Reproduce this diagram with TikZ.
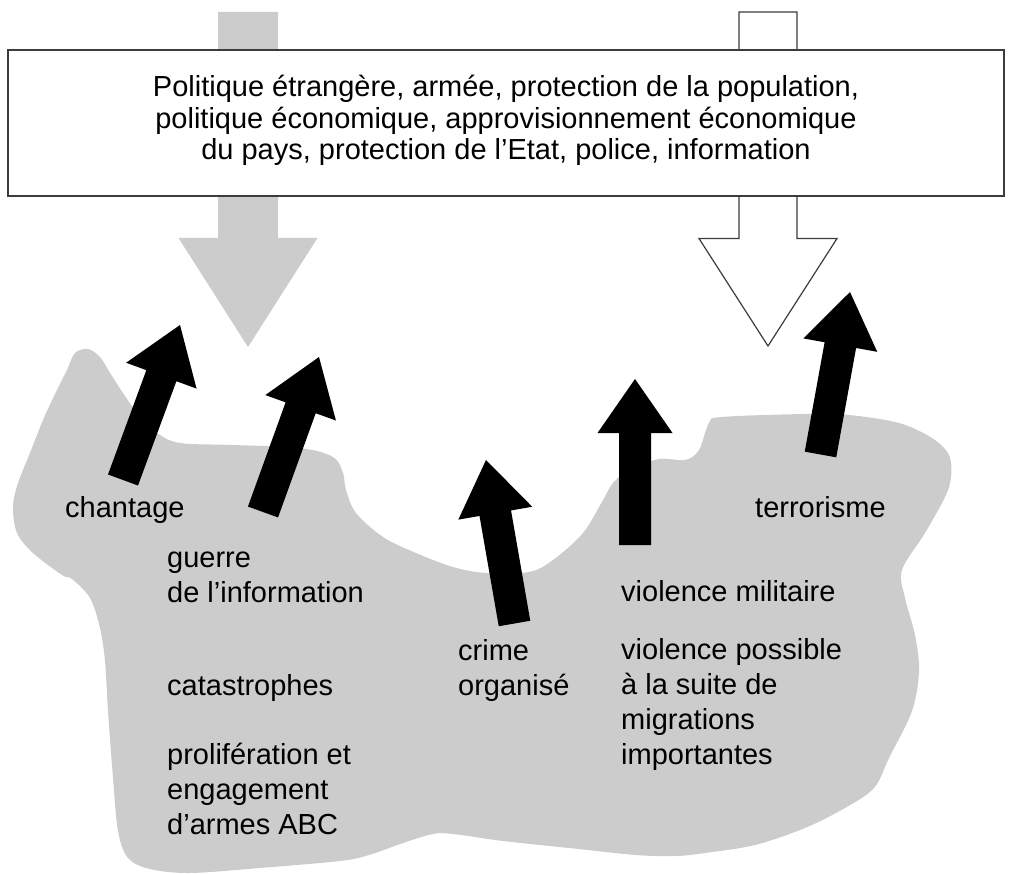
\documentclass[tikz,border=0pt]{standalone}
\usepackage{fontspec}
\setmainfont{Liberation Sans}
\usetikzlibrary{calc}
\definecolor{blobgray}{RGB}{204,204,204}
\definecolor{linegray}{RGB}{60,60,60}
\tikzset{
  lbl/.style={anchor=base west, inner sep=0pt, align=left, font=\fontsize{29}{35}\selectfont},
  toptext/.style={anchor=base, inner sep=0pt, align=center, font=\fontsize{29}{31.5}\selectfont},
  bigbox/.style={draw=linegray, line width=1.5pt, fill=white, minimum width=996pt, minimum height=146pt, inner sep=0pt},
  hollowarrow/.style={draw=linegray, line width=1.2pt, fill=white},
  grayarrow/.style={fill=blobgray},
}
\newcommand\blockarr[2]{%
  \coordinate (#1h) at ($(#2)!54pt!(#1)$);
  \fill[black] ($(#1)!16pt!90:(#2)$) -- ($(#1h)!16pt!90:(#2)$) -- ($(#1h)!37.5pt!90:(#2)$) -- (#2)
     -- ($(#1h)!37.5pt!-90:(#2)$) -- ($(#1h)!16pt!-90:(#2)$) -- ($(#1)!16pt!-90:(#2)$) -- cycle;
}
\begin{document}
\begin{tikzpicture}[x=1pt,y=-1pt]
\useasboundingbox (0,0) rectangle (1012,874);
% blob
\fill[blobgray] plot[smooth cycle, tension=0.55] coordinates {
 (88,349) (100,357) (110,373) (123,393) (140,417) (157,433) (180,443) (233,445) (300,448) (333,457)
 (343,473) (346,490) (356,513) (383,537) (416,553) (453,567) (486,573) (529,572) (553,560) (583,533)
 (603,500) (613,483) (629,470) (659,459) (685,460) (699,450) (709,423) (722,417) (805,414) (849,415)
 (899,423) (932,438) (949,455) (951,477) (945,497) (925,533) (902,570) (905,598) (915,635) (919,671)
 (912,711) (889,758) (874,788) (845,808) (805,828) (755,845) (705,853) (676,856) (636,855) (569,848)
 (503,841) (453,834) (433,834) (403,843) (369,855) (340,861) (260,868) (190,873) (150,869) (128,858)
 (118,831) (113,778) (108,711) (105,661) (100,628) (90,598) (72,579) (62,575) (33,553) (17,533)
 (13,507) (18,483) (30,453) (43,420) (57,390) (67,370) (75,353)
};
% gray arrow
\fill[grayarrow] (218,12) -- (278,12) -- (278,238) -- (317.5,238) -- (248,347) -- (178.5,238) -- (218,238) -- cycle;
% hollow arrow
\filldraw[hollowarrow] (739,12) -- (797,12) -- (797,238.5) -- (837,238.5) -- (768,346) -- (699,238.5) -- (739,238.5) -- cycle;
% box
\node[bigbox] (box) at (506,123) {};
\node[toptext] (policy) at (506,160) {Politique étrangère, armée, protection de la population,\\politique économique, approvisionnement économique\\du pays, protection de l’Etat, police, information};
% black arrows
\coordinate (a1b) at (123,480); \coordinate (a1t) at (180,325);
\coordinate (a2b) at (263,512); \coordinate (a2t) at (319,357);
\coordinate (a3b) at (514.5,623.5); \coordinate (a3t) at (486,460);
\coordinate (a4b) at (635,545); \coordinate (a4t) at (635,379);
\coordinate (a5b) at (820.5,454.5); \coordinate (a5t) at (850,292);
\blockarr{a1b}{a1t}
\blockarr{a2b}{a2t}
\blockarr{a3b}{a3t}
\blockarr{a4b}{a4t}
\blockarr{a5b}{a5t}
% labels (base anchor = baseline of last line)
\node[lbl] (chantage) at (65,517) {chantage};
\node[lbl] (terror) at (755,517) {terrorisme};
\node[lbl] (guerre) at (167,602) {guerre\\de l’information};
\node[lbl] (catas) at (167,695) {catastrophes};
\node[lbl] (prolif) at (167,834) {prolifération et\\engagement\\d’armes ABC};
\node[lbl] (crime) at (458,695) {crime\\organisé};
\node[lbl] (milit) at (621,601) {violence militaire};
\node[lbl] (migr) at (621,764) {violence possible\\à la suite de\\migrations\\importantes};
\end{tikzpicture}
\end{document}
